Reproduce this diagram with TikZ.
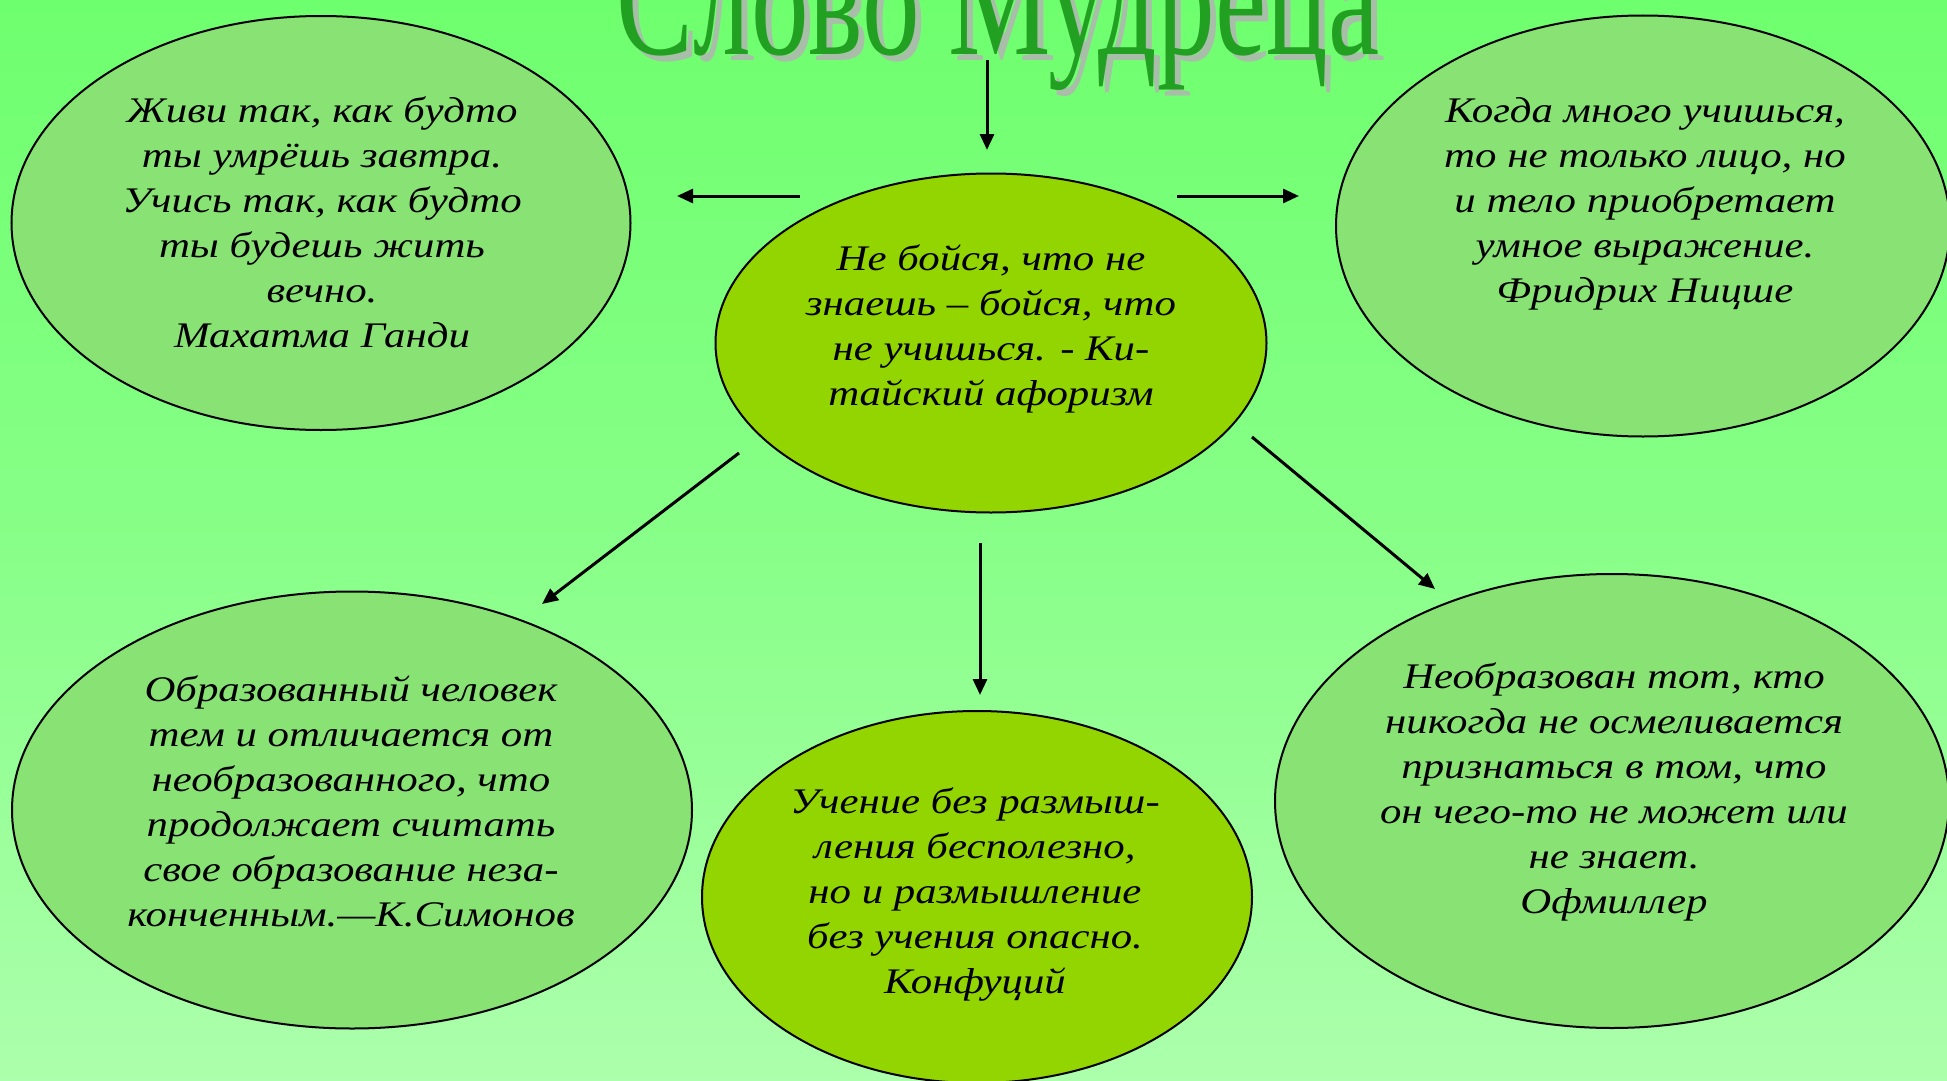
\documentclass[tikz,border=0pt]{standalone}
\usepackage{fontspec}
\setmainfont{Liberation Serif}
\newfontfamily\quotefont[FakeStretch=1.19]{Liberation Serif}
\usetikzlibrary{shapes.geometric,arrows.meta}
\definecolor{bgtop}{RGB}{110,255,110}
\definecolor{bgmid}{RGB}{136,255,136}
\definecolor{bgbot}{RGB}{172,255,172}
\definecolor{lightell}{RGB}{137,227,116}
\definecolor{darkell}{RGB}{147,213,0}
\definecolor{titlegreen}{RGB}{34,160,34}
\definecolor{titleshadow}{RGB}{168,190,168}
\tikzset{
  ell/.style={ellipse, draw=black, line width=2pt, inner sep=0pt},
  lightbox/.style={ell, fill=lightell},
  darkbox/.style={ell, fill=darkell},
  quote/.style={align=center, inner sep=0pt, font=\quotefont\itshape\fontsize{36}{45}\selectfont},
  arr/.style={line width=3pt, -{Triangle[length=16pt,width=14pt]}},
  titletext/.style={anchor=base, inner sep=0pt, font=\fontsize{167}{167}\selectfont}
}
\newcommand{\titleword}{\scalebox{0.69}[1]{Слово Мудреца}}
\begin{document}
\begin{tikzpicture}[x=1pt,y=-1pt]
\useasboundingbox (0,0) rectangle (1947,1081);
\clip (0,0) rectangle (1947,1081);
\shade[top color=bgtop, bottom color=bgbot, middle color=bgmid] (0,0) rectangle (1947,1081);
% title with shadow
\node[titletext] (title) at (998,55) {\rlap{\hspace{6pt}\raisebox{-6pt}{\textcolor{titleshadow}{\titleword}}}\textcolor{titlegreen}{\titleword}};
% ellipses
\node[lightbox, minimum width=619pt, minimum height=414pt] (tl) at (321,223) {};
\node[lightbox, minimum width=614pt, minimum height=421pt] (tr) at (1643,226) {};
\node[darkbox, minimum width=551pt, minimum height=339pt] (c) at (991,343) {};
\node[lightbox, minimum width=680pt, minimum height=437pt] (bl) at (352,810) {};
\node[darkbox, minimum width=550pt, minimum height=372pt] (bc) at (977,897) {};
\node[lightbox, minimum width=674pt, minimum height=454pt] (br) at (1612,801) {};
% texts
\node[quote] (ttl) at (322,222) {Живи так, как будто\\ты умрёшь завтра.\\Учись так, как будто\\ты будешь жить\\вечно.\\Махатма Ганди};
\node[quote] (tc) at (991,329) {Не бойся, что не\\знаешь – бойся, что\\не учишься. - Ки-\\тайский афоризм};
\node[quote] (ttr) at (1645,204) {Когда много учишься,\\то не только лицо, но\\и тело приобретает\\умное выражение.\\Фридрих Ницше};
\node[quote] (tbl) at (351,801) {Образованный человек\\тем и отличается от\\необразованного, что\\продолжает считать\\свое образование неза-\\конченным.—К.Симонов};
\node[quote] (tbc) at (975,894) {Учение без размыш-\\ления бесполезно,\\но и размышление\\без учения опасно.\\Конфуций};
\node[quote] (tbr) at (1614,792) {Необразован тот, кто\\никогда не осмеливается\\признаться в том, что\\он чего-то не может или\\не знает.\\Офмиллер};
% arrow end points
\coordinate (a1s) at (987,60);   \coordinate (a1e) at (987,150);
\coordinate (a2s) at (800,196);  \coordinate (a2e) at (677,196);
\coordinate (a3s) at (1177,196); \coordinate (a3e) at (1299,196);
\coordinate (a4s) at (739,453);  \coordinate (a4e) at (542,604);
\coordinate (a5s) at (980,543);  \coordinate (a5e) at (980,695);
\coordinate (a6s) at (1252,437); \coordinate (a6e) at (1435,589);
\draw[arr] (a1s) -- (a1e);
\draw[arr] (a2s) -- (a2e);
\draw[arr] (a3s) -- (a3e);
\draw[arr] (a4s) -- (a4e);
\draw[arr] (a5s) -- (a5e);
\draw[arr] (a6s) -- (a6e);
\end{tikzpicture}
\end{document}
